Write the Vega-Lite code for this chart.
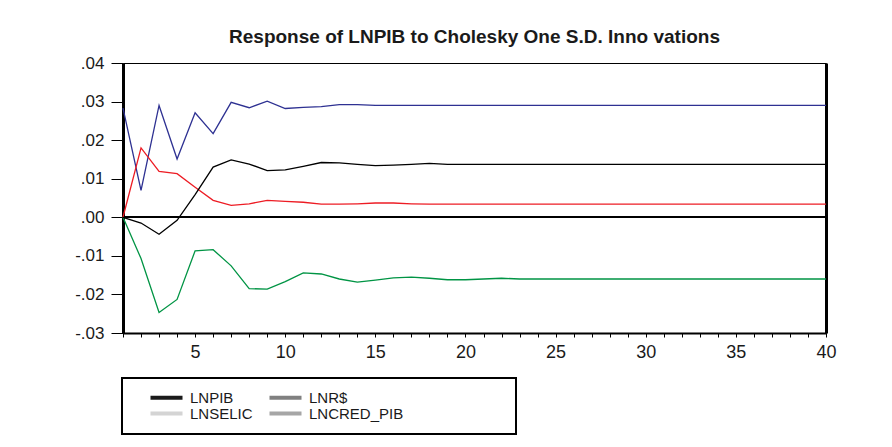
{
  "$schema": "https://vega.github.io/schema/vega-lite/v6.json",
  "autosize": {"type": "none"},
  "width": 703,
  "height": 270,
  "padding": {"left": 123, "top": 63, "right": 66, "bottom": 114},
  "background": "#ffffff",
  "config": {
    "view": {"stroke": "#000000", "strokeWidth": 1},
    "font": "Liberation Sans"
  },
  "title": {
    "text": "Response of LNPIB to Cholesky One S.D. Inno vations",
    "font": "Liberation Sans",
    "fontSize": 19,
    "fontWeight": "bold",
    "color": "#1a1a1a",
    "anchor": "middle",
    "offset": 7
  },
  "data": {
    "values": [
      {"period": 1, "series": "LNPIB", "value": 0.0283},
      {"period": 2, "series": "LNPIB", "value": 0.0070},
      {"period": 3, "series": "LNPIB", "value": 0.0290},
      {"period": 4, "series": "LNPIB", "value": 0.0151},
      {"period": 5, "series": "LNPIB", "value": 0.0271},
      {"period": 6, "series": "LNPIB", "value": 0.0217},
      {"period": 7, "series": "LNPIB", "value": 0.0298},
      {"period": 8, "series": "LNPIB", "value": 0.0284},
      {"period": 9, "series": "LNPIB", "value": 0.0301},
      {"period": 10, "series": "LNPIB", "value": 0.0282},
      {"period": 11, "series": "LNPIB", "value": 0.0285},
      {"period": 12, "series": "LNPIB", "value": 0.0287},
      {"period": 13, "series": "LNPIB", "value": 0.0292},
      {"period": 14, "series": "LNPIB", "value": 0.0292},
      {"period": 15, "series": "LNPIB", "value": 0.0290},
      {"period": 16, "series": "LNPIB", "value": 0.0290},
      {"period": 17, "series": "LNPIB", "value": 0.0290},
      {"period": 18, "series": "LNPIB", "value": 0.0290},
      {"period": 19, "series": "LNPIB", "value": 0.0290},
      {"period": 20, "series": "LNPIB", "value": 0.0290},
      {"period": 21, "series": "LNPIB", "value": 0.0290},
      {"period": 22, "series": "LNPIB", "value": 0.0290},
      {"period": 23, "series": "LNPIB", "value": 0.0290},
      {"period": 24, "series": "LNPIB", "value": 0.0290},
      {"period": 25, "series": "LNPIB", "value": 0.0290},
      {"period": 26, "series": "LNPIB", "value": 0.0290},
      {"period": 27, "series": "LNPIB", "value": 0.0290},
      {"period": 28, "series": "LNPIB", "value": 0.0290},
      {"period": 29, "series": "LNPIB", "value": 0.0290},
      {"period": 30, "series": "LNPIB", "value": 0.0290},
      {"period": 31, "series": "LNPIB", "value": 0.0290},
      {"period": 32, "series": "LNPIB", "value": 0.0290},
      {"period": 33, "series": "LNPIB", "value": 0.0290},
      {"period": 34, "series": "LNPIB", "value": 0.0290},
      {"period": 35, "series": "LNPIB", "value": 0.0290},
      {"period": 36, "series": "LNPIB", "value": 0.0290},
      {"period": 37, "series": "LNPIB", "value": 0.0290},
      {"period": 38, "series": "LNPIB", "value": 0.0290},
      {"period": 39, "series": "LNPIB", "value": 0.0290},
      {"period": 40, "series": "LNPIB", "value": 0.0290},

      {"period": 1, "series": "LNR$", "value": 0.0},
      {"period": 2, "series": "LNR$", "value": 0.0180},
      {"period": 3, "series": "LNR$", "value": 0.0119},
      {"period": 4, "series": "LNR$", "value": 0.0113},
      {"period": 5, "series": "LNR$", "value": 0.0078},
      {"period": 6, "series": "LNR$", "value": 0.0044},
      {"period": 7, "series": "LNR$", "value": 0.0031},
      {"period": 8, "series": "LNR$", "value": 0.0035},
      {"period": 9, "series": "LNR$", "value": 0.0044},
      {"period": 10, "series": "LNR$", "value": 0.0041},
      {"period": 11, "series": "LNR$", "value": 0.0039},
      {"period": 12, "series": "LNR$", "value": 0.0034},
      {"period": 13, "series": "LNR$", "value": 0.0034},
      {"period": 14, "series": "LNR$", "value": 0.0035},
      {"period": 15, "series": "LNR$", "value": 0.0037},
      {"period": 16, "series": "LNR$", "value": 0.0037},
      {"period": 17, "series": "LNR$", "value": 0.0035},
      {"period": 18, "series": "LNR$", "value": 0.0034},
      {"period": 19, "series": "LNR$", "value": 0.0034},
      {"period": 20, "series": "LNR$", "value": 0.0034},
      {"period": 21, "series": "LNR$", "value": 0.0034},
      {"period": 22, "series": "LNR$", "value": 0.0034},
      {"period": 23, "series": "LNR$", "value": 0.0034},
      {"period": 24, "series": "LNR$", "value": 0.0034},
      {"period": 25, "series": "LNR$", "value": 0.0034},
      {"period": 26, "series": "LNR$", "value": 0.0034},
      {"period": 27, "series": "LNR$", "value": 0.0034},
      {"period": 28, "series": "LNR$", "value": 0.0034},
      {"period": 29, "series": "LNR$", "value": 0.0034},
      {"period": 30, "series": "LNR$", "value": 0.0034},
      {"period": 31, "series": "LNR$", "value": 0.0034},
      {"period": 32, "series": "LNR$", "value": 0.0034},
      {"period": 33, "series": "LNR$", "value": 0.0034},
      {"period": 34, "series": "LNR$", "value": 0.0034},
      {"period": 35, "series": "LNR$", "value": 0.0034},
      {"period": 36, "series": "LNR$", "value": 0.0034},
      {"period": 37, "series": "LNR$", "value": 0.0034},
      {"period": 38, "series": "LNR$", "value": 0.0034},
      {"period": 39, "series": "LNR$", "value": 0.0034},
      {"period": 40, "series": "LNR$", "value": 0.0034},

      {"period": 1, "series": "LNSELIC", "value": 0.0},
      {"period": 2, "series": "LNSELIC", "value": -0.0107},
      {"period": 3, "series": "LNSELIC", "value": -0.0247},
      {"period": 4, "series": "LNSELIC", "value": -0.0213},
      {"period": 5, "series": "LNSELIC", "value": -0.0087},
      {"period": 6, "series": "LNSELIC", "value": -0.0084},
      {"period": 7, "series": "LNSELIC", "value": -0.0126},
      {"period": 8, "series": "LNSELIC", "value": -0.0185},
      {"period": 9, "series": "LNSELIC", "value": -0.0186},
      {"period": 10, "series": "LNSELIC", "value": -0.0167},
      {"period": 11, "series": "LNSELIC", "value": -0.0144},
      {"period": 12, "series": "LNSELIC", "value": -0.0147},
      {"period": 13, "series": "LNSELIC", "value": -0.0160},
      {"period": 14, "series": "LNSELIC", "value": -0.0168},
      {"period": 15, "series": "LNSELIC", "value": -0.0163},
      {"period": 16, "series": "LNSELIC", "value": -0.0157},
      {"period": 17, "series": "LNSELIC", "value": -0.0155},
      {"period": 18, "series": "LNSELIC", "value": -0.0158},
      {"period": 19, "series": "LNSELIC", "value": -0.0162},
      {"period": 20, "series": "LNSELIC", "value": -0.0162},
      {"period": 21, "series": "LNSELIC", "value": -0.0160},
      {"period": 22, "series": "LNSELIC", "value": -0.0158},
      {"period": 23, "series": "LNSELIC", "value": -0.0160},
      {"period": 24, "series": "LNSELIC", "value": -0.0160},
      {"period": 25, "series": "LNSELIC", "value": -0.0160},
      {"period": 26, "series": "LNSELIC", "value": -0.0160},
      {"period": 27, "series": "LNSELIC", "value": -0.0160},
      {"period": 28, "series": "LNSELIC", "value": -0.0160},
      {"period": 29, "series": "LNSELIC", "value": -0.0160},
      {"period": 30, "series": "LNSELIC", "value": -0.0160},
      {"period": 31, "series": "LNSELIC", "value": -0.0160},
      {"period": 32, "series": "LNSELIC", "value": -0.0160},
      {"period": 33, "series": "LNSELIC", "value": -0.0160},
      {"period": 34, "series": "LNSELIC", "value": -0.0160},
      {"period": 35, "series": "LNSELIC", "value": -0.0160},
      {"period": 36, "series": "LNSELIC", "value": -0.0160},
      {"period": 37, "series": "LNSELIC", "value": -0.0160},
      {"period": 38, "series": "LNSELIC", "value": -0.0160},
      {"period": 39, "series": "LNSELIC", "value": -0.0160},
      {"period": 40, "series": "LNSELIC", "value": -0.0160},

      {"period": 1, "series": "LNCRED_PIB", "value": 0.0},
      {"period": 2, "series": "LNCRED_PIB", "value": -0.0015},
      {"period": 3, "series": "LNCRED_PIB", "value": -0.0044},
      {"period": 4, "series": "LNCRED_PIB", "value": -0.0008},
      {"period": 5, "series": "LNCRED_PIB", "value": 0.0059},
      {"period": 6, "series": "LNCRED_PIB", "value": 0.0130},
      {"period": 7, "series": "LNCRED_PIB", "value": 0.0149},
      {"period": 8, "series": "LNCRED_PIB", "value": 0.0138},
      {"period": 9, "series": "LNCRED_PIB", "value": 0.0121},
      {"period": 10, "series": "LNCRED_PIB", "value": 0.0123},
      {"period": 11, "series": "LNCRED_PIB", "value": 0.0132},
      {"period": 12, "series": "LNCRED_PIB", "value": 0.0142},
      {"period": 13, "series": "LNCRED_PIB", "value": 0.0141},
      {"period": 14, "series": "LNCRED_PIB", "value": 0.0137},
      {"period": 15, "series": "LNCRED_PIB", "value": 0.0134},
      {"period": 16, "series": "LNCRED_PIB", "value": 0.0135},
      {"period": 17, "series": "LNCRED_PIB", "value": 0.0137},
      {"period": 18, "series": "LNCRED_PIB", "value": 0.0140},
      {"period": 19, "series": "LNCRED_PIB", "value": 0.0137},
      {"period": 20, "series": "LNCRED_PIB", "value": 0.0137},
      {"period": 21, "series": "LNCRED_PIB", "value": 0.0137},
      {"period": 22, "series": "LNCRED_PIB", "value": 0.0137},
      {"period": 23, "series": "LNCRED_PIB", "value": 0.0137},
      {"period": 24, "series": "LNCRED_PIB", "value": 0.0137},
      {"period": 25, "series": "LNCRED_PIB", "value": 0.0137},
      {"period": 26, "series": "LNCRED_PIB", "value": 0.0137},
      {"period": 27, "series": "LNCRED_PIB", "value": 0.0137},
      {"period": 28, "series": "LNCRED_PIB", "value": 0.0137},
      {"period": 29, "series": "LNCRED_PIB", "value": 0.0137},
      {"period": 30, "series": "LNCRED_PIB", "value": 0.0137},
      {"period": 31, "series": "LNCRED_PIB", "value": 0.0137},
      {"period": 32, "series": "LNCRED_PIB", "value": 0.0137},
      {"period": 33, "series": "LNCRED_PIB", "value": 0.0137},
      {"period": 34, "series": "LNCRED_PIB", "value": 0.0137},
      {"period": 35, "series": "LNCRED_PIB", "value": 0.0137},
      {"period": 36, "series": "LNCRED_PIB", "value": 0.0137},
      {"period": 37, "series": "LNCRED_PIB", "value": 0.0137},
      {"period": 38, "series": "LNCRED_PIB", "value": 0.0137},
      {"period": 39, "series": "LNCRED_PIB", "value": 0.0137},
      {"period": 40, "series": "LNCRED_PIB", "value": 0.0137}
    ]
  },
  "resolve": {"axis": {"y": "independent"}},
  "layer": [
    {
      "mark": {"type": "rule", "color": "#000000", "strokeWidth": 1},
      "encoding": {
        "y": {
          "datum": 0,
          "type": "quantitative",
          "scale": {"domain": [-0.03, 0.04], "nice": false, "zero": false},
          "axis": {
            "orient": "right",
            "labels": false,
            "ticks": false,
            "grid": false,
            "title": null,
            "domain": true,
            "domainWidth": 3,
            "domainColor": "#000000"
          }
        }
      }
    },
    {
      "mark": {"type": "line", "strokeWidth": 1.3, "interpolate": "linear"},
      "encoding": {
        "x": {
          "field": "period",
          "type": "quantitative",
          "scale": {"domain": [1, 40], "nice": false, "zero": false},
          "axis": {
            "title": null,
            "grid": false,
            "values": [1,2,3,4,5,6,7,8,9,10,11,12,13,14,15,16,17,18,19,20,21,22,23,24,25,26,27,28,29,30,31,32,33,34,35,36,37,38,39,40],
            "labelExpr": "datum.value % 5 === 0 ? datum.label : ''",
            "labelOverlap": false,
            "labelFlush": false,
            "labelBound": false,
            "labelFont": "Liberation Sans",
            "labelFontSize": 18,
            "labelColor": "#1a1a1a",
            "labelPadding": 6,
            "tickSize": 4,
            "tickColor": "#000000",
            "tickWidth": 1,
            "domainWidth": 2,
            "domainColor": "#000000"
          }
        },
        "y": {
          "field": "value",
          "type": "quantitative",
          "scale": {"domain": [-0.03, 0.04], "nice": false, "zero": false},
          "axis": {
            "orient": "left",
            "title": null,
            "grid": false,
            "values": [-0.03, -0.02, -0.01, 0, 0.01, 0.02, 0.03, 0.04],
            "labelExpr": "(datum.value < 0 ? '-' : '') + replace(format(abs(datum.value), '.2f'), '0.', '.')",
            "labelFlush": false,
            "labelBound": false,
            "labelOverlap": false,
            "labelFont": "Liberation Sans",
            "labelFontSize": 17,
            "labelColor": "#1a1a1a",
            "labelPadding": 7,
            "tickSize": 12,
            "tickColor": "#000000",
            "tickWidth": 1,
            "domainWidth": 3,
            "domainColor": "#000000"
          }
        },
        "stroke": {
          "field": "series",
          "type": "nominal",
          "sort": ["LNPIB", "LNR$", "LNSELIC", "LNCRED_PIB"],
          "scale": {
            "range": ["#2e3192", "#ed1c24", "#009444", "#000000"]
          },
          "legend": null
        }
      }
    },
    {
      "transform": [{"filter": "datum.period > 100"}],
      "mark": {"type": "line", "strokeWidth": 1},
      "encoding": {
        "color": {
          "field": "series",
          "type": "nominal",
          "scale": {
            "domain": ["LNPIB", "LNR$", "LNSELIC", "LNCRED_PIB"],
            "range": ["#1a1a1a", "#808080", "#d4d4d4", "#a6a6a6"]
          },
          "legend": {
            "orient": "none",
            "legendX": -1,
            "legendY": 315,
            "direction": "horizontal",
            "columns": 2,
            "columnPadding": 0,
            "rowPadding": -1,
            "symbolType": "M-3.2,0H3.2",
            "symbolSize": 100,
            "symbolStrokeWidth": 4,
            "symbolOffset": 25,
            "labelOffset": 16,
            "labelFont": "Liberation Sans",
            "labelFontSize": 15,
            "labelColor": "#1a1a1a",
            "labelLimit": 0,
            "padding": 12,
            "strokeColor": "#000000",
            "title": " ",
            "titleOrient": "right",
            "titleFontSize": 10,
            "titlePadding": 101,
            "encode": {
              "legend": {"update": {"strokeWidth": {"value": 2}}}
            }
          }
        }
      }
    }
  ]
}
